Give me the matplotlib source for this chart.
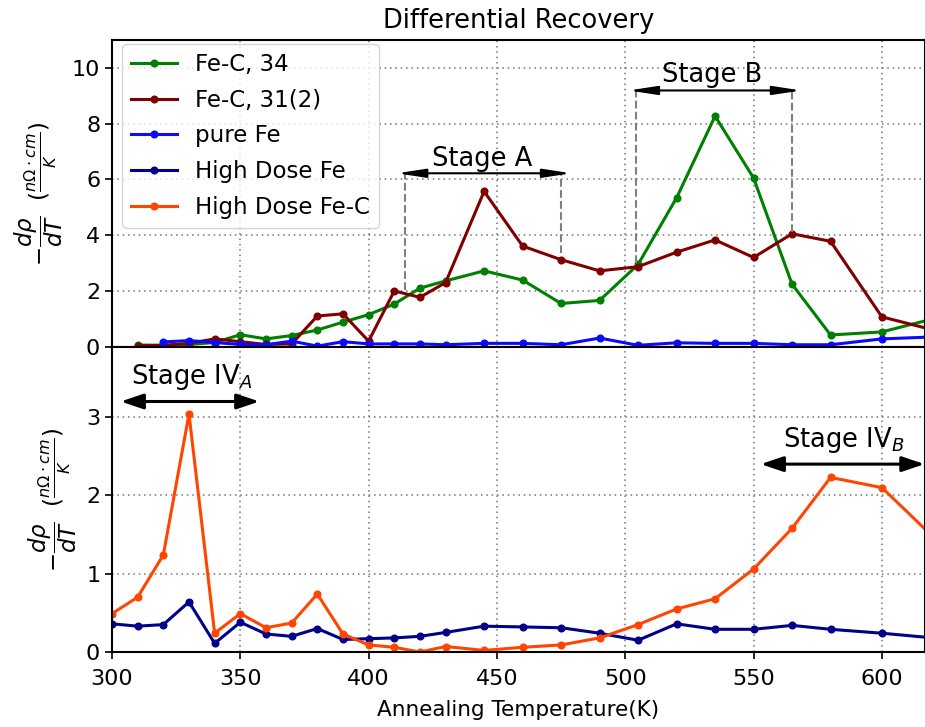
import matplotlib
matplotlib.use('Agg')
import matplotlib.pyplot as plt

# ---------------- data ----------------
T_top = [310, 320, 330, 340, 350, 360, 370, 380, 390, 400, 410, 420, 430, 445,
         460, 475, 490, 505, 520, 535, 550, 565, 580, 600, 620]
fec34 = [0.06, 0.05, 0.08, 0.15, 0.43, 0.28, 0.40, 0.60, 0.88, 1.15, 1.53, 2.10,
         2.36, 2.72, 2.39, 1.55, 1.66, 2.95, 5.34, 8.27, 6.05, 2.24, 0.42, 0.53, 1.00]
fec31 = [0.03, 0.05, 0.12, 0.28, 0.18, 0.08, 0.10, 1.10, 1.18, 0.20, 2.00, 1.77,
         2.30, 5.57, 3.61, 3.12, 2.72, 2.87, 3.39, 3.83, 3.20, 4.05, 3.78, 1.07, 0.60]
T_pure = [320, 330, 340, 350, 360, 370, 380, 390, 400, 410, 420, 430, 445,
          460, 475, 490, 505, 520, 535, 550, 565, 580, 600, 620]
pureFe = [0.17, 0.22, 0.15, 0.08, 0.07, 0.20, 0.02, 0.18, 0.10, 0.10, 0.10, 0.07,
          0.12, 0.12, 0.07, 0.31, 0.05, 0.14, 0.12, 0.12, 0.07, 0.07, 0.28, 0.35]

T_bot = [300, 310, 320, 330, 340, 350, 360, 370, 380, 390, 400, 410, 420, 430,
         445, 460, 475, 490, 505, 520, 535, 550, 565, 580, 600, 620]
hdFeC = [0.49, 0.70, 1.24, 3.04, 0.24, 0.49, 0.31, 0.37, 0.74, 0.23, 0.09, 0.06,
         0.00, 0.07, 0.02, 0.06, 0.09, 0.18, 0.35, 0.55, 0.68, 1.06, 1.58, 2.23, 2.10, 1.47]
hdFe = [0.36, 0.33, 0.35, 0.64, 0.11, 0.38, 0.23, 0.20, 0.30, 0.16, 0.17, 0.18,
        0.20, 0.25, 0.33, 0.32, 0.31, 0.24, 0.15, 0.36, 0.29, 0.29, 0.34, 0.29, 0.24, 0.18]

labels = ['Fe-C, 34', 'Fe-C, 31(2)', 'pure Fe', 'High Dose Fe', 'High Dose Fe-C']
colors = ['green', '#800000', '#0a0aff', '#00008B', '#FF4500']

x_ticks = [300, 350, 400, 450, 500, 550, 600]
top_yticks = [0, 2, 4, 6, 8, 10]
bot_yticks = [0, 1, 2, 3]

# stage annotations (x-range, arrow height)
stageA_lines = [414, 475]
stageA_ends = [2.02, 3.35]
stageA_arrow = [411, 479]
stageA_y = 6.22
stageB_lines = [504, 565]
stageB_ends = [3.01, 4.10]
stageB_arrow = [501.3, 568.6]
stageB_y = 9.19
stageIVA_arrow = [303.4, 357.4]
stageIVA_y = 3.20
stageIVB_arrow = [552.8, 616.6]
stageIVB_y = 2.40

# ---------------- figure ----------------
W, H = 925, 727
fig = plt.figure(figsize=(W / 100, H / 100), dpi=100)
left = 112 / W
ax1 = fig.add_axes([left, 1 - 346.7 / H, 1 - left, (346.7 - 40) / H])
ax2 = fig.add_axes([left, 1 - 652 / H, 1 - left, (652 - 346.7) / H], sharex=ax1)

lw = 2.2
ms = 4.8
h = []
h += ax1.plot(T_top, fec34, '-o', color=colors[0], lw=lw, ms=ms, label=labels[0])
h += ax1.plot(T_top, fec31, '-o', color=colors[1], lw=lw, ms=ms, label=labels[1])
h += ax1.plot(T_pure, pureFe, '-o', color=colors[2], lw=lw, ms=ms, label=labels[2])
h += ax2.plot(T_bot, hdFe, '-o', color=colors[3], lw=lw, ms=ms, label=labels[3])
h += ax2.plot(T_bot, hdFeC, '-o', color=colors[4], lw=lw, ms=ms, label=labels[4])

ax1.set_xlim(300, 616.8)
ax1.set_ylim(0, 11)
ax2.set_ylim(0, 3.9)
ax1.set_xticks(x_ticks)
ax1.set_yticks(top_yticks)
ax2.set_yticks(bot_yticks)
plt.setp(ax1.get_xticklabels(), visible=False)

for ax in (ax1, ax2):
    ax.grid(True, linestyle=(0, (1, 2.5)), color='0.45', lw=1.1)
    ax.tick_params(labelsize=16, width=1.2, length=5)
    for s in ax.spines.values():
        s.set_linewidth(1.5)
ax2.tick_params(axis='x', pad=7)

ylab = r'$-\dfrac{d\rho}{dT}$  $(\frac{n\Omega\cdot cm}{K})$'
ax1.set_ylabel(ylab, fontsize=16.5, labelpad=5)
ax2.set_ylabel(ylab, fontsize=16.5, labelpad=5)
ax2.set_xlabel('Annealing Temperature(K)', fontsize=15.5, labelpad=8)
ax1.set_title('Differential Recovery', fontsize=18.5, pad=9)

ax1.legend(handles=h, labels=labels, loc='upper left',
           bbox_to_anchor=(0.0123, 0.987), borderaxespad=0, fontsize=16.5,
           labelspacing=0.55, fancybox=True, framealpha=0.8, edgecolor='0.8')

# Stage A / B
for xv, ye in zip(stageA_lines, stageA_ends):
    ax1.plot([xv, xv], [ye, stageA_y], '--', color='gray', lw=1.5)
for xv, ye in zip(stageB_lines, stageB_ends):
    ax1.plot([xv, xv], [ye, stageB_y], '--', color='gray', lw=1.5)

thin = dict(arrowstyle='<|-|>,head_length=0.85,head_width=0.13', lw=1.5,
            color='black', shrinkA=0, shrinkB=0, mutation_scale=20)
ax1.annotate('', xy=(stageA_arrow[1], stageA_y), xytext=(stageA_arrow[0], stageA_y),
             arrowprops=thin)
ax1.annotate('', xy=(stageB_arrow[1], stageB_y), xytext=(stageB_arrow[0], stageB_y),
             arrowprops=thin)
ax1.text(444.4, 6.48, 'Stage A', fontsize=18.5, ha='center', va='baseline')
ax1.text(534, 9.49, 'Stage B', fontsize=18.5, ha='center', va='baseline')

thick = dict(arrowstyle='<|-|>,head_length=0.68,head_width=0.23', lw=2.2,
             color='black', shrinkA=0, shrinkB=0, mutation_scale=20)
ax2.annotate('', xy=(stageIVA_arrow[1], stageIVA_y), xytext=(stageIVA_arrow[0], stageIVA_y),
             arrowprops=thick)
ax2.annotate('', xy=(stageIVB_arrow[1], stageIVB_y), xytext=(stageIVB_arrow[0], stageIVB_y),
             arrowprops=thick)
ax2.text(331, 3.42, r'Stage IV$_A$', fontsize=18.5, ha='center', va='baseline')
ax2.text(585.2, 2.62, r'Stage IV$_B$', fontsize=18.5, ha='center', va='baseline')

fig.savefig('out.png', dpi=100)
